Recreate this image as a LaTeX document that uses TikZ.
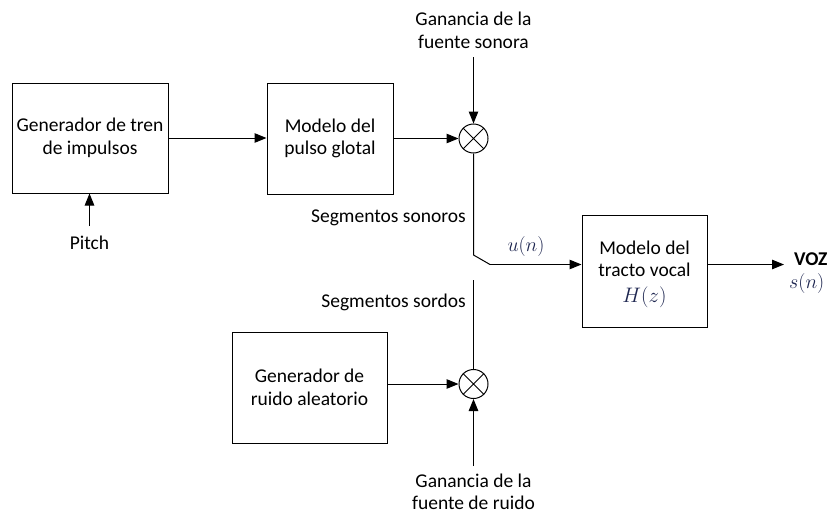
\RequirePackage{fix-cm}
\documentclass[tikz,border=0pt]{standalone}
\usepackage{fontspec}
\setmainfont{Carlito}
\usetikzlibrary{arrows.meta}
\definecolor{mathblue}{RGB}{30,38,80}
\begin{document}
\begin{tikzpicture}[x=1pt,y=-1pt,
  every node/.style={font=\fontsize{19.5}{22.5}\selectfont, inner sep=0pt},
  block/.style={draw, line width=1pt, align=center},
  mixer/.style={draw, circle, line width=1pt, minimum size=29pt},
  wire/.style={line width=1pt},
  sig/.style={wire, -{Triangle[length=12pt,width=9.5pt]}},
  lbl/.style={align=center},
  mth/.style={text=mathblue, font=\fontsize{20}{22.5}\selectfont}]
\useasboundingbox (0,0) rectangle (833,514);

% processing blocks
\node[block, minimum width=156pt, minimum height=110pt] (gen) at (90,138) {Generador de tren\\de impulsos};
\node[block, minimum width=125pt, minimum height=112pt] (tract) at (644.5,271) {};
\node[align=center] (tracttxt) at (644.5,274) {Modelo del\\tracto vocal\\[3pt]{\color{mathblue}\fontsize{21}{22}\selectfont$H(z)$}};
\node[block, minimum width=126pt, minimum height=111pt] (glot) at (330,138.5) {Modelo del\\pulso glotal};
\node[block, minimum width=155pt, minimum height=111pt] (noise) at (309.5,387.5) {Generador de\\ruido aleatorio};

% gain multipliers
\node[mixer] (m1) at (473.5,138.5) {};
\node[mixer] (m2) at (473.5,384) {};
\draw[wire] (m1.45) -- (m1.225) (m1.135) -- (m1.315);
\draw[wire] (m2.45) -- (m2.225) (m2.135) -- (m2.315);

% labels
\node[lbl] (g1) at (473.5,30.5) {Ganancia de la\\fuente sonora};
\node[lbl] (g2) at (473.5,492) {Ganancia de la\\fuente de ruido};
\node (pitch) at (89.5,243) {Pitch};
\node[anchor=east] (sson) at (466,218) {Segmentos sonoros};
\node[anchor=east] (ssor) at (466,302) {Segmentos sordos};
\node[mth] (un) at (526,246) {$u(n)$};
\node[anchor=west, font=\fontsize{19.5}{22.5}\selectfont\bfseries] (voz) at (794,259) {VOZ};
\node[anchor=west, mth] (sn) at (789,283) {$s(n)$};

% switch contacts
\coordinate (sa) at (473.5,255);
\coordinate (sb) at (490,264.5);
\coordinate (sc) at (473.5,280);
\coordinate (gtop) at (473.5,57);
\coordinate (gbot) at (473.5,466);
\coordinate (ptail) at (89.5,226);
\coordinate (out) at (784,264.5);

% signal paths
\draw[sig] (gen.east |- 0,138) -- (glot.west |- 0,138);
\draw[sig] (glot.east |- m1) -- (m1.west);
\draw[sig] (gtop) -- (m1.north);
\draw[sig] (ptail) -- (gen.south -| ptail);
\draw[wire] (m1.south) -- (sa) -- (sb);
\draw[sig] (sb) -- (tract.west |- sb);
\draw[wire] (sc) -- (m2.north);
\draw[sig] (noise.east |- m2) -- (m2.west);
\draw[sig] (gbot) -- (m2.south);
\draw[sig] (tract.east |- out) -- (out);
\end{tikzpicture}
\end{document}
